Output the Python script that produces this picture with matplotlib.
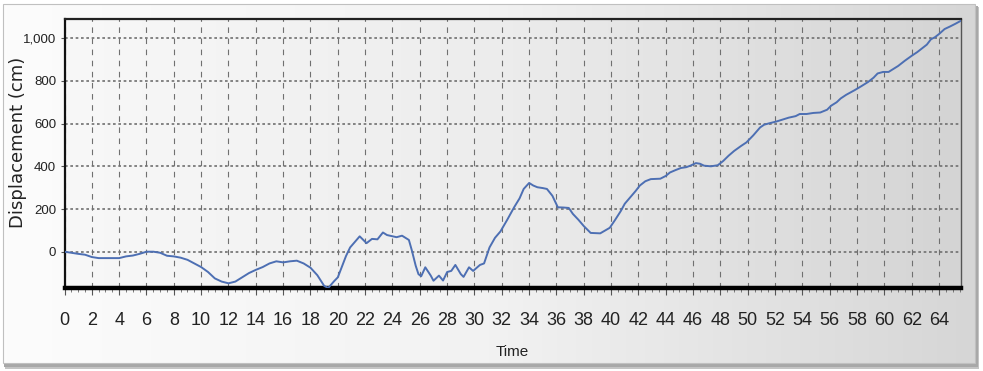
import numpy as np
import matplotlib
matplotlib.use("Agg")
import matplotlib.pyplot as plt
from matplotlib.colors import LinearSegmentedColormap
from matplotlib.patches import Rectangle
from matplotlib.ticker import MultipleLocator, FuncFormatter

# Displacement record (time, displacement in cm)
time = [0, 0.5, 1, 1.5, 2, 2.5, 3, 3.5, 4, 4.5, 5, 5.5, 6, 6.5, 7, 7.5, 8, 8.5,
        9, 9.5, 10, 10.5, 11, 11.5, 12, 12.5, 13, 13.5, 14, 14.5, 15, 15.5, 16,
        16.5, 17, 17.5, 18, 18.5, 19, 19.3, 19.7, 20.0, 20.3, 20.6, 20.9, 21.3,
        21.6, 22.1, 22.5, 22.9, 23.3, 23.6, 23.8, 24.3, 24.7, 25.2, 25.4, 25.7,
        25.9, 26.1, 26.4, 26.8, 27.0, 27.4, 27.7, 28.0, 28.3, 28.6, 29.0, 29.2,
        29.6, 29.9, 30.4, 30.7, 31.1, 31.5, 31.9, 32.4, 32.9, 33.3, 33.6, 34.0,
        34.3, 34.6, 35.0, 35.3, 35.7, 36.1, 36.5, 36.9, 37.2, 37.6, 38.0, 38.5,
        39.2, 39.9, 40.3, 40.7, 41.0, 41.4, 41.8, 42.1, 42.5, 42.9, 43.6, 44.0,
        44.3, 44.7, 45.1, 45.5, 45.8, 46.2, 46.5, 46.8, 47.3, 47.8, 48.2, 48.6,
        49.0, 49.5, 49.9, 50.4, 50.9, 51.2, 51.6, 52.1, 52.6, 53.0, 53.5, 53.8,
        54.3, 54.8, 55.3, 55.8, 56.1, 56.5, 56.8, 57.2, 57.8, 58.3, 58.8, 59.2,
        59.5, 59.9, 60.3, 60.7, 61.0, 61.5, 62.0, 62.4, 62.7, 63.1, 63.4, 63.7,
        64.0, 64.4, 64.8, 65.2, 65.6]
displacement = [0, -5, -10, -14, -25, -30, -30, -30, -30, -22, -18, -10, 0, 0,
                -5, -19, -22, -28, -38, -55, -72, -95, -125, -140, -148, -140,
                -120, -100, -85, -72, -55, -45, -50, -45, -42, -55, -75, -110,
                -160, -170, -140, -120, -70, -20, 20, 50, 72, 40, 60, 58, 90,
                78, 75, 68, 75, 55, 10, -66, -105, -115, -73, -112, -136, -112,
                -135, -95, -90, -62, -105, -118, -73, -90, -62, -55, 20, 65, 95,
                150, 208, 250, 294, 322, 310, 302, 298, 294, 262, 208, 207, 205,
                177, 150, 120, 88, 86, 112, 150, 190, 225, 255, 285, 310, 330,
                340, 342, 355, 371, 382, 392, 396, 403, 415, 412, 403, 400, 405,
                425, 450, 472, 495, 512, 545, 582, 595, 602, 610, 620, 628, 635,
                645, 645, 650, 652, 665, 684, 700, 718, 735, 756, 775, 795, 815,
                835, 842, 842, 858, 870, 895, 918, 935, 950, 970, 995, 1005,
                1020, 1043, 1055, 1068, 1082]

x_ticks = list(range(0, 65, 2))
y_ticks = [0, 200, 400, 600, 800, 1000]

W, H = 983, 371
fig = plt.figure(figsize=(W / 100, H / 100), dpi=100)
fig.patch.set_facecolor("white")

label_font = ["Liberation Sans", "DejaVu Sans"]

# Window panel: soft horizontal gradient with a drop shadow
bg = fig.add_axes([0, 0, 1, 1], zorder=-20)
bg.set_xlim(0, W)
bg.set_ylim(H, 0)
bg.axis("off")
bg.add_patch(Rectangle((5, 7), W - 9, H - 9, facecolor="#c4c4c4", edgecolor="none"))
bg.add_patch(Rectangle((4, 6), W - 9, H - 10, facecolor="#a8a8a8", edgecolor="none"))
panel_cmap = LinearSegmentedColormap.from_list("panel", ["#fcfcfc", "#f2f2f2", "#d6d6d6"])
grad = np.linspace(0, 1, 256).reshape(1, -1)
bg.imshow(grad, cmap=panel_cmap, extent=[3, W - 8, H - 8, 4], aspect="auto", zorder=1)
bg.add_patch(Rectangle((3, 4), W - 11, H - 12, facecolor="none",
                       edgecolor="#c0c0c0", lw=0.8, zorder=2))

# Plot area
left, right, top, bottom = 64.5, 961, 19, 288
pos = [left / W, 1 - bottom / H, (right - left) / W, (bottom - top) / H]

plot_bg = fig.add_axes(pos, zorder=-10)
plot_bg.axis("off")
area_cmap = LinearSegmentedColormap.from_list("area", ["#f8f8f8", "#ececec", "#d4d4d4"])
plot_bg.imshow(grad, cmap=area_cmap, extent=[0, 1, 0, 1], aspect="auto")
plot_bg.set_xlim(0, 1)
plot_bg.set_ylim(0, 1)

ax = fig.add_axes(pos)
ax.set_facecolor("none")
ax.plot(time, displacement, color="#4d6fb3", lw=1.4, zorder=3)

ax.set_xlim(0, 65.6)
ax.set_ylim(-170, 1090)

ax.set_xticks(x_ticks)
ax.set_xticklabels([str(t) for t in x_ticks], family=label_font, fontsize=13)
ax.xaxis.set_minor_locator(MultipleLocator(0.5))
ax.set_yticks(y_ticks)
ax.yaxis.set_major_formatter(FuncFormatter(lambda v, p: f"{int(v):,}"))
for lbl in ax.get_yticklabels():
    lbl.set_family(label_font)
    lbl.set_fontsize(9.5)

ax.tick_params(axis="x", which="major", direction="out", length=5, width=0.8,
               color="#555555", pad=12, labelcolor="#222222")
ax.tick_params(axis="x", which="minor", direction="out", length=3, width=0.6,
               color="#666666")
ax.tick_params(axis="y", which="major", direction="out", length=3, width=0.8,
               color="#555555", pad=3, labelcolor="#222222")

ax.grid(axis="x", which="major", linestyle=(0, (5, 5)), color="#707070", lw=0.8)
ax.grid(axis="y", which="major", linestyle=(0, (1.6, 1.6)), color="#707070", lw=1.2)
ax.set_axisbelow(True)

ax.spines["left"].set_linewidth(1.6)
ax.spines["left"].set_color("#111111")
ax.spines["top"].set_linewidth(1.6)
ax.spines["top"].set_color("#222222")
ax.spines["bottom"].set_linewidth(3.2)
ax.spines["bottom"].set_color("#000000")
ax.spines["right"].set_linewidth(1.0)
ax.spines["right"].set_color("#555555")

fig.text(18 / W, 1 - 142 / H, "Displacement (cm)", rotation=90, ha="center",
         va="center", fontsize=13, family="DejaVu Sans", color="#222222")
fig.text((left + right) / 2 / W, 1 - 352 / H, "Time", ha="center", va="center",
         fontsize=11, family=label_font, color="#222222")

fig.savefig("out.png", dpi=100, facecolor=fig.get_facecolor())
